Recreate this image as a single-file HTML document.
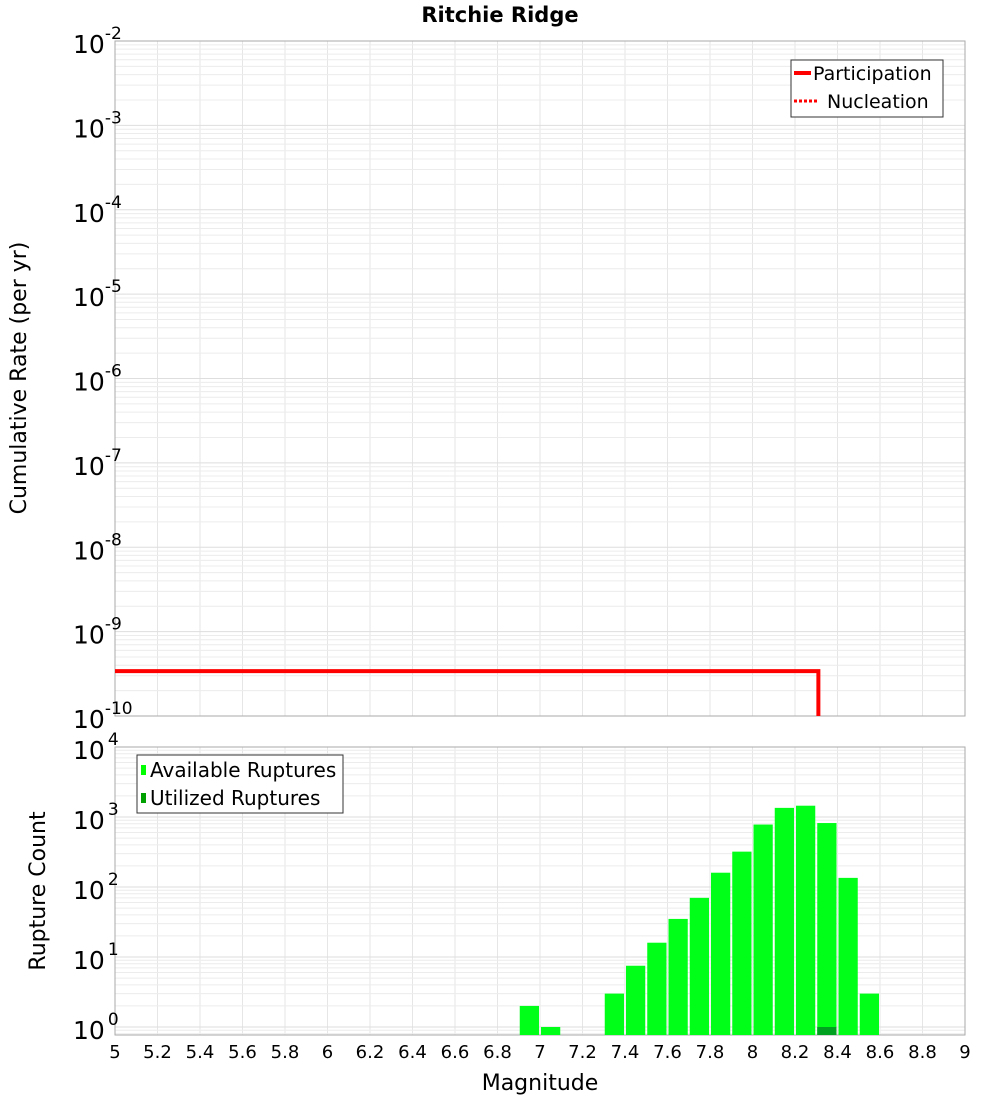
<!DOCTYPE html>
<html><head><meta charset="utf-8"><style>
body{margin:0;background:#fff;}
svg{display:block;font-family:"DejaVu Sans","Liberation Sans",sans-serif;}
</style></head><body>
<svg id="chart" width="1000" height="1100">
<text x="500" y="22" text-anchor="middle" font-size="21" font-weight="bold">Ritchie Ridge</text>
<g id="topg"></g>
<g id="botg"></g>
<text transform="translate(26,378) rotate(-90)" text-anchor="middle" font-size="22">Cumulative Rate (per yr)</text>
<text transform="translate(45,891) rotate(-90)" text-anchor="middle" font-size="22">Rupture Count</text>
<text x="540" y="1090" text-anchor="middle" font-size="22">Magnitude</text>
<g>
<rect x="791" y="60" width="152" height="57" fill="#fff" stroke="#333"/>
<line x1="794" y1="73" x2="811" y2="73" stroke="red" stroke-width="4"/>
<text x="813" y="80" font-size="19">Participation</text>
<line x1="794" y1="101" x2="819" y2="101" stroke="red" stroke-width="3" stroke-dasharray="3,2"/>
<text x="827" y="108" font-size="19">Nucleation</text>
</g>
<g>
<rect x="137" y="755" width="206" height="58" fill="#fff" stroke="#333"/>
<rect x="141" y="765" width="5" height="10" fill="#00ff00"/>
<text x="150" y="777" font-size="20">Available Ruptures</text>
<rect x="141" y="793" width="5" height="10" fill="#00a000"/>
<text x="150" y="805" font-size="20">Utilized Ruptures</text>
</g>
</svg>
<script>
const xTicks=[5,5.2,5.4,5.6,5.8,6,6.2,6.4,6.6,6.8,7,7.2,7.4,7.6,7.8,8,8.2,8.4,8.6,8.8,9];
const rateDecades=[-2,-3,-4,-5,-6,-7,-8,-9,-10];
const countDecades=[4,3,2,1,0];
const partMags=[5,8.31,8.31];
const partRates=[3.4e-10,3.4e-10,1e-10];
const binMags=[6.95,7.05,7.35,7.45,7.55,7.65,7.75,7.85,7.95,8.05,8.15,8.25,8.35,8.45,8.55];
const availCounts=[2,1,3,7.5,16,35,70,160,320,780,1350,1450,820,135,3];
const usedMags=[8.35];
const usedCounts=[1];
const NS='http://www.w3.org/2000/svg';
const X0=115,X1=965;
const sx=m=>X0+(m-5)/4*(X1-X0);
const T0=41,T1=716;
const sy1=v=>T0+(-2-Math.log10(v))/8*(T1-T0);
const B0=747,B1=1035,DEC=70;
const sy2=v=>B0+(4-Math.log10(v))*DEC;
function mk(p,tag,a,txt){const e=document.createElementNS(NS,tag);for(const k in a)e.setAttribute(k,a[k]);if(txt!==undefined)e.textContent=txt;p.appendChild(e);return e;}
const topG=document.getElementById('topg'),botG=document.getElementById('botg');
function grid(g,y0,y1,syf,decs){
 xTicks.forEach(t=>{const l=mk(g,'line',{x1:sx(t),x2:sx(t),y1:y0,y2:y1,stroke:'#e6e6e6'});
 
 });
 decs.forEach(d=>{for(let k=1;k<10;k++){const y=syf(k*Math.pow(10,d));if(y<y0||y>y1)continue;
 const l=mk(g,'line',{x1:X0,x2:X1,y1:y,y2:y,stroke:k==1?'#dedede':'#ececec'});
 
 }});
}
grid(topG,T0,T1,sy1,[-3,-4,-5,-6,-7,-8,-9,-10]);
grid(botG,B0,B1,sy2,[3,2,1,0,-1]);
mk(topG,'rect',{x:X0,y:T0,width:X1-X0,height:T1-T0,fill:'none',stroke:'#aaa'});
mk(botG,'rect',{x:X0,y:B0,width:X1-X0,height:B1-B0,fill:'none',stroke:'#aaa'});
rateDecades.forEach(d=>{const y=sy1(Math.pow(10,d));
 const t=mk(topG,'text',{x:73,y:y+12,'font-size':25});
 
 
 mk(t,'tspan',{},'10');mk(t,'tspan',{dy:-14,'font-size':17},String(d));});
countDecades.forEach(d=>{const y=sy2(Math.pow(10,d));
 const t=mk(botG,'text',{x:73,y:y+12,'font-size':25});
 
 
 mk(t,'tspan',{},'10');mk(t,'tspan',{dx:3,dy:-14,'font-size':17},String(d));});
xTicks.forEach(t=>{const e=mk(botG,'text',{x:sx(t),y:1058,'text-anchor':'middle','font-size':18},String(t));
 
 });
const bw=(sx(5.1)-sx(5))-2;
binMags.forEach((m,i)=>{const y=Math.max(B0,sy2(availCounts[i]));
 const r=mk(botG,'rect',{x:sx(m)-bw/2,y:y,width:bw,height:B1-y,fill:'#00ff18'});
 
 });
usedMags.forEach((m,i)=>{const y=sy2(usedCounts[i]);
 const r=mk(botG,'rect',{x:sx(m)-bw/2,y:y,width:bw,height:B1-y,fill:'#00a020'});
 
 });
const pts=partMags.map((m,i)=>sx(m)+','+Math.min(T1,sy1(partRates[i]))).join(' ');
const pl=mk(topG,'polyline',{points:pts,fill:'none',stroke:'red','stroke-width':4});


</script>
</body></html>
